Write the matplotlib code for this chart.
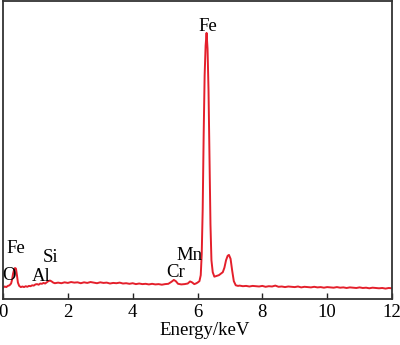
import matplotlib
matplotlib.use("Agg")
import matplotlib.pyplot as plt

plt.rcParams['font.family'] = ['Liberation Serif', 'DejaVu Serif']

energy = [0.00, 0.05, 0.10, 0.15, 0.20, 0.25, 0.28, 0.31, 0.34, 0.37, 0.40, 0.43, 0.46, 0.50,
          0.55, 0.60, 0.65, 0.70, 0.75, 0.80, 0.85, 0.90, 0.95, 1.00, 1.05, 1.10, 1.15, 1.20,
          1.25, 1.30, 1.35, 1.40, 1.45, 1.50, 1.55, 1.60, 1.70, 1.80, 1.90, 2.00, 2.10, 2.20,
          2.30, 2.40, 2.50, 2.60, 2.70, 2.80, 2.90, 3.00, 3.10, 3.20, 3.30, 3.40, 3.50, 3.60,
          3.70, 3.80, 3.90, 4.00, 4.10, 4.20, 4.30, 4.40, 4.50, 4.60, 4.70, 4.80, 4.90, 5.00,
          5.10, 5.20, 5.27, 5.33, 5.40, 5.50, 5.60, 5.70, 5.77, 5.83, 5.90, 5.95, 6.00, 6.06,
          6.10, 6.13, 6.16, 6.19, 6.22, 6.25, 6.28, 6.31, 6.34, 6.37, 6.40, 6.43, 6.47, 6.52,
          6.60, 6.66, 6.72, 6.78, 6.83, 6.88, 6.93, 6.97, 7.02, 7.07, 7.12, 7.18, 7.25, 7.30,
          7.40, 7.50, 7.60, 7.70, 7.80, 7.90, 8.00, 8.10, 8.20, 8.30, 8.40, 8.50, 8.60, 8.70,
          8.80, 8.90, 9.00, 9.10, 9.20, 9.30, 9.40, 9.50, 9.60, 9.70, 9.80, 9.90, 10.00, 10.10,
          10.20, 10.30, 10.40, 10.50, 10.60, 10.70, 10.80, 10.90, 11.00, 11.10, 11.20, 11.30,
          11.40, 11.50, 11.60, 11.70, 11.80, 11.90, 12.00]
counts = [3.8, 4.2, 4.0, 4.4, 4.6, 5.2, 6.5, 8.5, 9.8, 10.4, 10.2, 8.0, 5.5, 4.4,
          4.0, 4.2, 4.0, 4.3, 4.1, 4.4, 4.3, 4.6, 4.5, 4.9, 5.0, 4.8, 5.2, 5.1,
          5.4, 5.2, 5.6, 6.0, 6.2, 5.9, 5.5, 5.3, 5.5, 5.3, 5.6, 5.4, 5.7, 5.5,
          5.6, 5.3, 5.6, 5.4, 5.7, 5.5, 5.3, 5.6, 5.4, 5.5, 5.2, 5.4, 5.3, 5.5,
          5.2, 5.3, 5.1, 5.3, 5.0, 5.2, 5.0, 5.1, 4.9, 5.1, 4.9, 5.0, 4.8, 5.0,
          5.1, 5.8, 6.4, 6.0, 5.1, 4.9, 5.0, 5.2, 5.9, 5.6, 5.0, 5.2, 5.5, 6.0,
          8.0, 15.0, 30.0, 55.0, 75.0, 85.0, 89.3, 84.0, 70.0, 48.0, 25.0, 13.0, 9.0, 7.5,
          7.8, 8.0, 8.5, 9.0, 10.5, 13.0, 14.5, 14.8, 13.5, 9.5, 6.0, 4.6, 4.4, 4.5,
          4.3, 4.4, 4.2, 4.4, 4.3, 4.2, 4.4, 4.1, 4.3, 4.2, 4.5, 4.1, 4.2, 4.0,
          4.2, 4.1, 4.0, 4.2, 3.9, 4.1, 4.0, 3.9, 4.1, 3.9, 4.0, 3.8, 4.0, 3.9,
          3.8, 4.0, 3.8, 3.9, 3.7, 3.9, 3.8, 3.7, 3.9, 3.7, 3.8, 3.6,
          3.8, 3.7, 3.6, 3.7, 3.5, 3.7, 3.6]

peak_labels = ['Fe', 'Fe', 'O', 'Al', 'Si', 'Cr', 'Mn']
label_x = [6.31, 0.40, 0.19, 1.17, 1.47, 5.31, 5.76]
label_y = [90.0, 15.4, 6.4, 6.0, 12.4, 7.4, 13.1]

xticks = [0, 2, 4, 6, 8, 10, 12]

fig = plt.figure(figsize=(4.0, 3.45), dpi=100)
ax = fig.add_axes([0.0075, 0.1333, 0.9725, 0.8637])
ax.plot(energy, counts, color='#e41f2b', lw=1.4)
ax.set_xlim(0, 12)
ax.set_ylim(0, 100)
ax.set_xticks(xticks)
ax.set_xticklabels([str(t) for t in xticks])
ax.set_yticks([])
ax.tick_params(axis='x', direction='in', length=4, width=1, pad=3.5,
               labelsize=13.5, colors='#222222', labelcolor='black')
for s in ax.spines.values():
    s.set_linewidth(1.3)
    s.set_color('#333333')
for t, x, y in zip(peak_labels, label_x, label_y):
    ax.text(x, y, t, ha='center', va='baseline', fontsize=13.5, color='black')
ax.set_xlabel('Energy/keV', fontsize=13.5, x=0.519, labelpad=1)
fig.savefig('out.png', dpi=100)
